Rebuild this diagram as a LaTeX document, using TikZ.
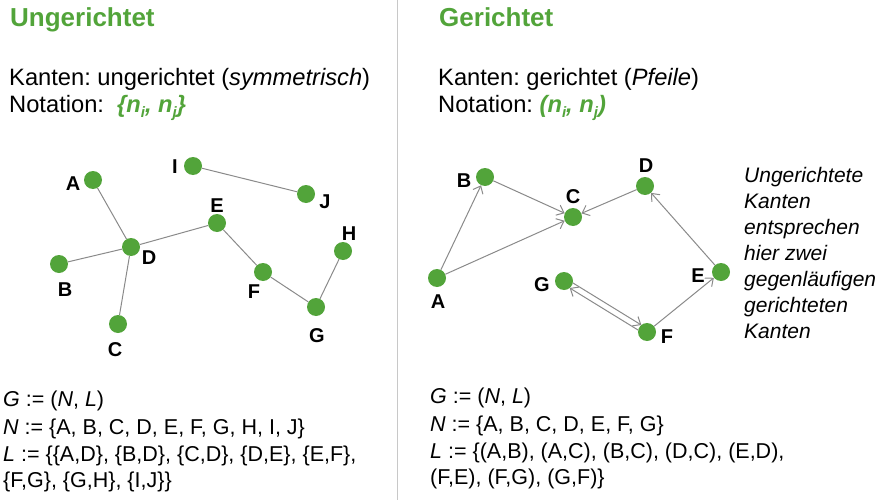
\documentclass[tikz,border=0pt]{standalone}
\usepackage{fontspec}
\setmainfont{Liberation Sans}
\frenchspacing
\usetikzlibrary{arrows.meta,calc,positioning}
\definecolor{nodegreen}{HTML}{52A43A}
\definecolor{edgegray}{HTML}{8A8A8A}
\definecolor{rulegray}{HTML}{C8C8C8}
\newcommand{\lowidx}[1]{\raisebox{-0.35ex}{\fontsize{15}{15}\selectfont #1}}

\tikzset{
  vertex/.style={circle,fill=nodegreen,minimum size=18pt,inner sep=0pt},
  vlabel/.style={font=\fontsize{20}{20}\selectfont\bfseries,inner sep=0pt},
  edge/.style={draw=edgegray,line width=1pt},
  arc/.style={edge,-{Straight Barb[length=6.5pt,width=11pt]}},
  title/.style={font=\fontsize{26}{30}\selectfont\bfseries,text=nodegreen,anchor=base west,inner sep=0pt},
  body/.style={font=\fontsize{23.7}{27}\selectfont,anchor=base west,inner sep=0pt,align=left},
  defs/.style={font=\fontsize{21.5}{27.5}\selectfont,anchor=base west,inner sep=0pt,align=left},
  remark/.style={font=\fontsize{21}{26}\selectfont\itshape,anchor=base west,inner sep=0pt,align=left},
}

\begin{document}
\begin{tikzpicture}[x=1pt,y=-1pt]
\useasboundingbox (0,0) rectangle (877,500);
\draw[rulegray,line width=1pt] (397,0) -- (397,500);

% left column: undirected
\node[title] (ltitle) at (10,27) {Ungerichtet};
\node[body] (ltext) at (9,113) {Kanten: ungerichtet (\textit{symmetrisch})\\
  Notation:\ \ {\color{nodegreen}\bfseries\itshape \{n\lowidx{i}, n\lowidx{j}\}}};

\node[vertex] (uA) at (93,180) {};
\node[vertex] (uB) at (59,264) {};
\node[vertex] (uC) at (118,324) {};
\node[vertex] (uD) at (131,247) {};
\node[vertex] (uE) at (217,223) {};
\node[vertex] (uF) at (263,272) {};
\node[vertex] (uG) at (316,307) {};
\node[vertex] (uH) at (343,251) {};
\node[vertex] (uI) at (193,166) {};
\node[vertex] (uJ) at (306,194) {};

\node[vlabel] (luA) at (73,184) {A};
\node[vlabel] (luB) at (65,290) {B};
\node[vlabel] (luC) at (115,350) {C};
\node[vlabel] (luD) at (149,258) {D};
\node[vlabel] (luE) at (217,206) {E};
\node[vlabel] (luF) at (254,292) {F};
\node[vlabel] (luG) at (317,336) {G};
\node[vlabel] (luH) at (349,234) {H};
\node[vlabel] (luI) at (175,167) {I};
\node[vlabel] (luJ) at (325,202) {J};

\draw[edge] (uA) -- (uD);
\draw[edge] (uB) -- (uD);
\draw[edge] (uC) -- (uD);
\draw[edge] (uD) -- (uE);
\draw[edge] (uE) -- (uF);
\draw[edge] (uF) -- (uG);
\draw[edge] (uG) -- (uH);
\draw[edge] (uI) -- (uJ);

\node[defs] (ldefs) at (3,487) {\textit{G} := (\textit{N}, \textit{L})\\
  \textit{N} := \{A, B, C, D, E, F, G, H, I, J\}\\
  \textit{L} := \{\{A,D\}, \{B,D\}, \{C,D\}, \{D,E\}, \{E,F\},\\[-2pt]
  \{F,G\}, \{G,H\}, \{I,J\}\}};

% right column: directed
\node[title] (rtitle) at (439,27) {Gerichtet};
\node[body] (rtext) at (438,113) {Kanten: gerichtet (\textit{Pfeile})\\
  Notation: {\color{nodegreen}\bfseries\itshape (n\lowidx{i}, n\lowidx{j})}};

\node[vertex] (dA) at (437,278) {};
\node[vertex] (dB) at (485,177) {};
\node[vertex] (dC) at (573,217) {};
\node[vertex] (dD) at (645,186) {};
\node[vertex] (dE) at (721,272) {};
\node[vertex] (dF) at (647,332) {};
\node[vertex] (dG) at (564,281) {};

\node[vlabel] (ldA) at (438,302) {A};
\node[vlabel] (ldB) at (464,181) {B};
\node[vlabel] (ldC) at (573,197) {C};
\node[vlabel] (ldD) at (646,166) {D};
\node[vlabel] (ldE) at (698,276) {E};
\node[vlabel] (ldF) at (667,337) {F};
\node[vlabel] (ldG) at (542,285) {G};

\draw[arc] (dA) -- (dB);
\draw[arc] (dA) -- (dC);
\draw[arc] (dB) -- (dC);
\draw[arc] (dD) -- (dC);
\draw[arc] (dE) -- (dD);
\draw[arc] (dF) -- (dE);
\draw[arc,shorten <=8.5pt,shorten >=8.5pt] ($(dF)!3pt!90:(dG)$) -- ($(dG)!3pt!-90:(dF)$);
\draw[arc,shorten <=8.5pt,shorten >=8.5pt] ($(dG)!3pt!90:(dF)$) -- ($(dF)!3pt!-90:(dG)$);

\node[remark] (note) at (744,338) {Ungerichtete\\ Kanten\\ entsprechen\\ hier zwei\\
  gegenläufigen\\ gerichteten\\ Kanten};

\node[defs] (rdefs) at (430,484) {\textit{G} := (\textit{N}, \textit{L})\\
  \textit{N} := \{A, B, C, D, E, F, G\}\\
  \textit{L} := \{(A,B), (A,C), (B,C), (D,C), (E,D),\\[-2pt]
  (F,E), (F,G), (G,F)\}};
\end{tikzpicture}
\end{document}
